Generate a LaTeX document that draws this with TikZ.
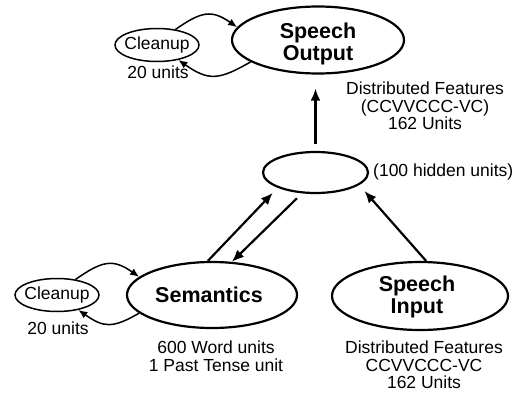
\documentclass[tikz,border=0pt]{standalone}
\usepackage{fontspec}
\setmainfont{Liberation Sans}
\usetikzlibrary{shapes.geometric,arrows.meta}
\tikzset{
  bigell/.style={ellipse, draw, line width=2.2pt, inner sep=0pt},
  smallell/.style={ellipse, draw, line width=1.5pt, inner sep=0pt, minimum width=84pt, minimum height=33pt},
  txt/.style={font=\fontsize{17.5}{17.5}\selectfont, inner sep=0pt, align=center},
  btxt/.style={font=\bfseries\fontsize{21.5}{22}\selectfont, inner sep=0pt, align=center},
  arr/.style={-{Latex[length=12pt,width=10pt]}, line width=2.2pt},
  carr/.style={-{Latex[length=9pt,width=7.5pt]}, line width=1.5pt},
}
\begin{document}
\begin{tikzpicture}[x=1pt,y=-1pt]
\useasboundingbox (0,0) rectangle (528,394);
% ellipses
\node[bigell, minimum width=172pt, minimum height=67pt,
      label={[btxt, yshift=-4pt]center:Speech\\Output}] (so) at (318,40) {};
\node[smallell, label={[txt]center:Cleanup}] (clT) at (157,45) {};
\node[bigell, minimum width=105pt, minimum height=41pt] (hid) at (315.5,172.5) {};
\node[bigell, minimum width=170pt, minimum height=66pt,
      label={[btxt, xshift=-3pt]center:Semantics}] (sem) at (212,295) {};
\node[smallell, label={[txt]center:Cleanup}] (clB) at (57,295) {};
\node[bigell, minimum width=176pt, minimum height=68pt,
      label={[btxt, xshift=-3pt, yshift=-1pt]center:Speech\\Input}] (inp) at (420,296) {};
% text labels
\node[txt] (uT) at (158,72) {20 units};
\node[txt] (uB) at (58,328) {20 units};
\node[txt] (dfT) at (425,106) {Distributed Features\\(CCVVCCC-VC)\\162 Units};
\node[txt, anchor=west] (hu) at (373,172) {(100 hidden units)};
\node[txt] (wu) at (216,356) {600 Word units\\1 Past Tense unit};
\node[txt] (dfB) at (424,365) {Distributed Features\\CCVVCCC-VC\\162 Units};
% main connectors
\draw[arr, shorten <=7pt, shorten >=14pt] (hid.north) -- (hid.north |- so.south);
\draw[arr, shorten >=7pt] (sem.97) -- (hid.202);
\draw[arr, shorten <=7pt] (hid.237) -- (sem.59);
\draw[arr, shorten >=8pt] (inp.80) -- (hid.344);
% cleanup loops
\draw[carr] (clT.40) to[out=35, in=145, looseness=1.3] (so.171);
\draw[carr] (so.198) to[out=210, in=-35, looseness=1.3] (clT.-35);
\draw[carr] (clB.40) to[out=35, in=145, looseness=1.3] (sem.166);
\draw[carr] (sem.194) to[out=210, in=-35, looseness=1.3] (clB.-35);
\end{tikzpicture}
\end{document}
